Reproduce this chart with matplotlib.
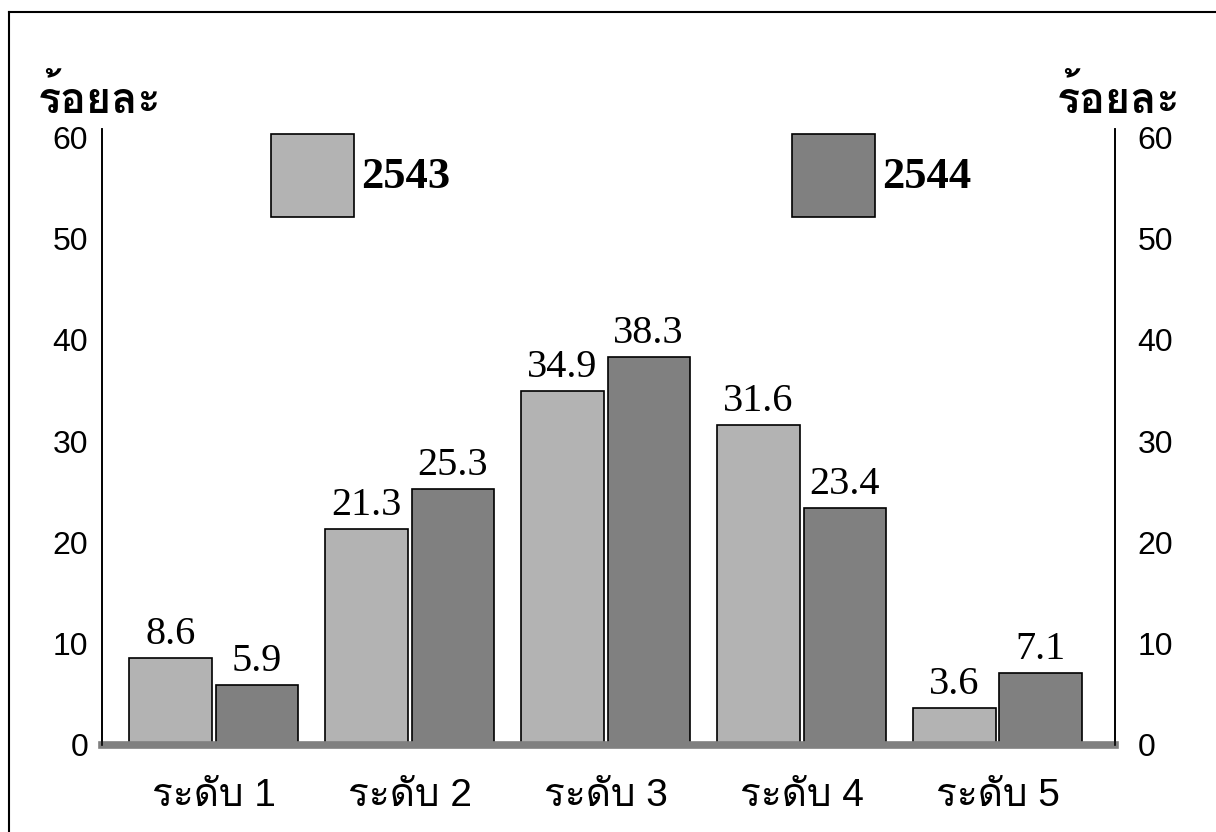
import matplotlib
matplotlib.use("Agg")
import matplotlib.pyplot as plt
import numpy as np
from matplotlib.lines import Line2D
from matplotlib.patches import Rectangle

# data
categories = ["ระดับ 1", "ระดับ 2", "ระดับ 3", "ระดับ 4", "ระดับ 5"]
values_2543 = [8.6, 21.3, 34.9, 31.6, 3.6]
values_2544 = [5.9, 25.3, 38.3, 23.4, 7.1]
series_names = ["2543", "2544"]
y_ticks = [0, 10, 20, 30, 40, 50, 60]
y_label = "ร้อยละ"

light = "#b3b3b3"
dark = "#808080"

# Latin first, Thai glyphs fall through to the Thai family
sans = ["Liberation Sans", "Loma", "DejaVu Sans"]
serif = ["Liberation Serif", "DejaVu Serif"]

fig = plt.figure(figsize=(12.16, 8.32), dpi=100)
ax = fig.add_axes([0.0839, 0.1046, 0.8331, 0.7404])

x = np.arange(len(categories))
width = 0.42
gap = 0.01
bars1 = ax.bar(x - width / 2 - gap, values_2543, width, color=light,
               edgecolor="black", linewidth=1.2, zorder=2)
bars2 = ax.bar(x + width / 2 + gap, values_2544, width, color=dark,
               edgecolor="black", linewidth=1.2, zorder=2)

for bars, vals in ((bars1, values_2543), (bars2, values_2544)):
    for b, v in zip(bars, vals):
        ax.text(b.get_x() + b.get_width() / 2, v + 0.5, f"{v:.1f}",
                ha="center", va="bottom", family=serif, fontsize=29)

ax.set_xlim(-0.57, 4.6)
ax.set_ylim(0, 60.8)
ax.set_yticks(y_ticks)
ax.set_yticklabels([str(t) for t in y_ticks], family=sans, fontsize=23)
ax.tick_params(axis="y", length=0, pad=10)
ax.set_xticks(x)
ax.set_xticklabels(categories, family=sans, fontsize=28)
ax.tick_params(axis="x", length=0, pad=24)

ax2 = ax.twinx()
ax2.set_ylim(ax.get_ylim())
ax2.set_yticks(y_ticks)
ax2.set_yticklabels([str(t) for t in y_ticks], family=sans, fontsize=23)
ax2.tick_params(axis="y", length=0, pad=16)

for a in (ax, ax2):
    a.spines["top"].set_visible(False)
    a.spines["bottom"].set_visible(False)
    a.spines["left"].set_linewidth(1.2)
    a.spines["right"].set_linewidth(1.2)

# thick gray baseline
ax.axhline(0, color=dark, linewidth=5.5, zorder=3, clip_on=False)

# legend boxes drawn as patches in axes coordinates
legend_x = [0.167, 0.681]
for lx, name, col in zip(legend_x, series_names, [light, dark]):
    ax.add_patch(Rectangle((lx, 0.857), 0.082, 0.135, transform=ax.transAxes,
                           facecolor=col, edgecolor="black", linewidth=1.2,
                           clip_on=False))
    ax.text(lx + 0.089, 0.922, name, transform=ax.transAxes, ha="left",
            va="center", family=serif, fontsize=32, fontweight="bold")

fig.text(0.031, 0.88, y_label, family=sans, fontsize=31,
         fontweight="bold", ha="left", va="center")
fig.text(0.971, 0.88, y_label, family=sans, fontsize=31,
         fontweight="bold", ha="right", va="center")

# partial frame: top and left edges
fig.add_artist(Line2D([0.0074, 1.0], [0.9856, 0.9856], color="black",
                      linewidth=1.5, transform=fig.transFigure))
fig.add_artist(Line2D([0.0074, 0.0074], [0.0, 0.9856], color="black",
                      linewidth=1.5, transform=fig.transFigure))

fig.savefig("out.png", dpi=100)
